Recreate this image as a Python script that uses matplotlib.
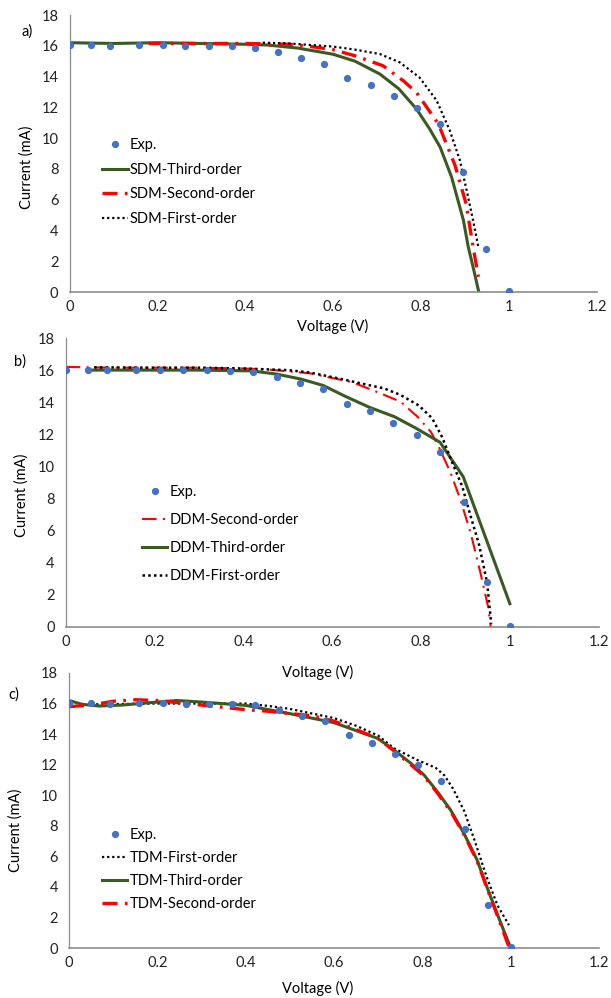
import numpy as np
import matplotlib
matplotlib.use("Agg")
import matplotlib.pyplot as plt

plt.rcParams['font.family'] = ['Lato', 'DejaVu Sans']

# experimental points (shared by all three panels)
exp_v = [0, 0.05, 0.093, 0.158, 0.212, 0.264, 0.317, 0.37, 0.422, 0.475,
         0.528, 0.58, 0.633, 0.686, 0.738, 0.791, 0.843, 0.897, 0.948, 1.0]
exp_i = [16.03, 16.02, 16.0, 16.02, 16.02, 16.0, 15.99, 15.96, 15.88, 15.6,
         15.19, 14.83, 13.92, 13.45, 12.72, 11.98, 10.9, 7.8, 2.82, 0.09]

# a) SDM
sdm3_v = [0, 0.1, 0.2, 0.3, 0.4, 0.45, 0.52, 0.6, 0.65, 0.707, 0.75, 0.79,
          0.82, 0.844, 0.87, 0.897, 0.908, 0.92, 0.932]
sdm3_i = [16.2, 16.15, 16.2, 16.15, 16.1, 16.05, 15.85, 15.45, 15.0, 14.16,
          13.2, 11.9, 10.6, 9.41, 7.47, 4.66, 2.93, 1.5, 0.0]
sdm2_v = [0.18, 0.3, 0.4, 0.5, 0.55, 0.6, 0.65, 0.714, 0.76, 0.79, 0.84,
          0.878, 0.903, 0.919, 0.931]
sdm2_i = [16.15, 16.15, 16.15, 16.1, 15.95, 15.75, 15.35, 14.7, 13.73, 12.97,
          10.92, 8.22, 5.74, 2.93, 0.99]
sdm1_v = [0.44, 0.5, 0.55, 0.6, 0.65, 0.707, 0.752, 0.797, 0.836, 0.866,
          0.889, 0.906, 0.919, 0.931]
sdm1_i = [16.2, 16.15, 16.05, 15.95, 15.75, 15.46, 14.92, 13.94, 12.44, 10.49,
          8.55, 6.39, 4.66, 2.93]

# b) DDM
ddm2_v = [0, 0.1, 0.2, 0.3, 0.4, 0.45, 0.55, 0.645, 0.709, 0.754, 0.792,
          0.822, 0.84, 0.867, 0.889, 0.912, 0.934, 0.951, 0.957]
ddm2_i = [16.2, 16.15, 16.15, 16.15, 16.1, 16.05, 15.8, 15.25, 14.55, 14.03,
          13.1, 12.16, 11.23, 9.57, 7.9, 5.83, 3.34, 1.26, 0]
ddm3_v = [0.048, 0.1, 0.2, 0.3, 0.42, 0.475, 0.53, 0.58, 0.63, 0.685, 0.74,
          0.79, 0.843, 0.895, 1.0]
ddm3_i = [16.0, 16.0, 16.0, 16.0, 15.95, 15.75, 15.44, 15.04, 14.36, 13.67,
          13.1, 12.36, 11.5, 9.36, 1.45]
ddm1_v = [0.064, 0.2, 0.3, 0.4, 0.5, 0.55, 0.62, 0.66, 0.717, 0.754, 0.795,
          0.825, 0.848, 0.871, 0.893, 0.912, 0.93, 0.949, 0.958]
ddm1_i = [16.17, 16.15, 16.15, 16.1, 16.0, 15.85, 15.45, 15.2, 14.86, 14.45,
          13.8, 13.0, 11.8, 10.19, 8.74, 6.87, 5.21, 2.72, 0.2]

# c) TDM
tdm1_v = [0.05, 0.2, 0.3, 0.4, 0.45, 0.5, 0.55, 0.6, 0.65, 0.7, 0.736, 0.789,
          0.83, 0.85, 0.87, 0.895, 0.92, 0.945, 0.97, 0.996]
tdm1_i = [15.95, 16.0, 16.0, 16.0, 15.85, 15.65, 15.35, 15.05, 14.55, 13.9,
          13.07, 12.3, 11.8, 11.3, 10.4, 8.95, 6.9, 4.7, 2.8, 1.5]
tdm3_v = [0, 0.03, 0.068, 0.12, 0.18, 0.244, 0.3, 0.4, 0.5, 0.6, 0.699, 0.736,
          0.774, 0.804, 0.834, 0.864, 0.894, 0.924, 0.946, 0.969, 1.0]
tdm3_i = [16.2, 15.95, 15.84, 15.9, 16.05, 16.2, 16.1, 15.88, 15.34, 14.75,
          13.72, 12.96, 12.09, 11.32, 10.23, 9.03, 7.51, 5.76, 4.01, 2.27, 0.0]
tdm2_v = [0, 0.05, 0.1, 0.15, 0.2, 0.25, 0.3, 0.35, 0.4, 0.45, 0.5, 0.55, 0.6,
          0.65, 0.7, 0.736, 0.774, 0.804, 0.834, 0.864, 0.894, 0.924, 0.946,
          0.969, 0.997]
tdm2_i = [15.8, 15.9, 16.15, 16.25, 16.2, 16.05, 15.9, 15.75, 15.6, 15.5,
          15.35, 15.2, 14.85, 14.3, 13.7, 12.9, 12.0, 11.25, 10.15, 8.95, 7.45,
          5.7, 3.95, 2.2, 0]

green = '#3a5a21'
blue = '#4472c4'
fs = 10.5

fig = plt.figure(figsize=(6.11, 9.98), dpi=100)
W, H = 611.0, 998.0


def make_axes(left, right, top, bottom):
    ax = fig.add_axes([left / W, 1 - bottom / H, (right - left) / W, (bottom - top) / H])
    ax.set_xlim(0, 1.2)
    ax.set_ylim(0, 18)
    ax.set_xticks(np.arange(0, 1.21, 0.2))
    ax.set_xticklabels(['0', '0.2', '0.4', '0.6', '0.8', '1', '1.2'])
    ax.set_yticks(range(0, 19, 2))
    for s in ['top', 'right']:
        ax.spines[s].set_visible(False)
    ax.spines['left'].set_color('#8c8c8c')
    ax.spines['left'].set_linewidth(0.9)
    ax.spines['bottom'].set_color('#8c8c8c')
    ax.spines['bottom'].set_linewidth(1.2)
    ax.tick_params(length=0, labelsize=fs, colors='#222222')
    ax.tick_params(axis='y', pad=8)
    ax.tick_params(axis='x', pad=6)
    return ax


def exp_points(ax):
    return ax.plot(exp_v, exp_i, 'o', color=blue, ms=4.2, label='Exp.', zorder=5)[0]


dashdot = (0, (4.5, 2.2, 0.8, 2.2))
dotted = (0, (1, 1.3))

# panel a
ax = make_axes(69.5, 596.5, 15, 292)
h0 = exp_points(ax)
h3, = ax.plot(sdm3_v, sdm3_i, color=green, lw=2.2, label='SDM-Third-order')
h2, = ax.plot(sdm2_v, sdm2_i, color='red', lw=2.4, ls=dashdot, label='SDM-Second-order')
h1, = ax.plot(sdm1_v, sdm1_i, color='black', lw=1.6, ls=dotted, label='SDM-First-order')
ax.legend([h0, h3, h2, h1], [h.get_label() for h in [h0, h3, h2, h1]],
          loc='upper left', bbox_to_anchor=(0.062, 0.555), frameon=False,
          fontsize=fs, handlelength=1.75, handletextpad=0.15, labelspacing=0.72,
          borderpad=0, borderaxespad=0)
fig.text(27 / W, 1 - 32 / H, 'a)', fontsize=fs, ha='center', va='center')
fig.text(27 / W, 1 - 167 / H, 'Current (mA)', fontsize=fs, rotation=90, ha='center', va='center')
fig.text(333 / W, 1 - 326 / H, 'Voltage (V)', fontsize=fs, ha='center', va='center')

# panel b
ax = make_axes(65.7, 598.7, 338, 627)
h0 = exp_points(ax)
h2, = ax.plot(ddm2_v, ddm2_i, color='red', lw=1.5, ls=(0, (7, 3, 1, 3)), label='DDM-Second-order')
h3, = ax.plot(ddm3_v, ddm3_i, color=green, lw=2.2, label='DDM-Third-order')
h1, = ax.plot(ddm1_v, ddm1_i, color='black', lw=1.8, ls=dotted, label='DDM-First-order')
ax.legend([h0, h2, h3, h1], [h.get_label() for h in [h0, h2, h3, h1]],
          loc='upper left', bbox_to_anchor=(0.143, 0.49), frameon=False,
          fontsize=fs, handlelength=1.75, handletextpad=0.15, labelspacing=0.95,
          borderpad=0, borderaxespad=0)
fig.text(20 / W, 1 - 362 / H, 'b)', fontsize=fs, ha='center', va='center')
fig.text(21.5 / W, 1 - 495 / H, 'Current (mA)', fontsize=fs, rotation=90, ha='center', va='center')
fig.text(318 / W, 1 - 672 / H, 'Voltage (V)', fontsize=fs, ha='center', va='center')

# panel c
ax = make_axes(69, 599, 673, 948)
h0 = exp_points(ax)
h1, = ax.plot(tdm1_v, tdm1_i, color='black', lw=1.6, ls=dotted, label='TDM-First-order')
h3, = ax.plot(tdm3_v, tdm3_i, color=green, lw=2.2, label='TDM-Third-order')
h2, = ax.plot(tdm2_v, tdm2_i, color='red', lw=2.4, ls=dashdot, label='TDM-Second-order')
ax.legend([h0, h1, h3, h2], [h.get_label() for h in [h0, h1, h3, h2]],
          loc='upper left', bbox_to_anchor=(0.062, 0.435), frameon=False,
          fontsize=fs, handlelength=1.75, handletextpad=0.15, labelspacing=0.62,
          borderpad=0, borderaxespad=0)
fig.text(14 / W, 1 - 695 / H, 'c)', fontsize=fs, ha='center', va='center')
fig.text(16 / W, 1 - 830 / H, 'Current (mA)', fontsize=fs, rotation=90, ha='center', va='center')
fig.text(318 / W, 1 - 988 / H, 'Voltage (V)', fontsize=fs, ha='center', va='center')

fig.savefig('out.png', dpi=100)
